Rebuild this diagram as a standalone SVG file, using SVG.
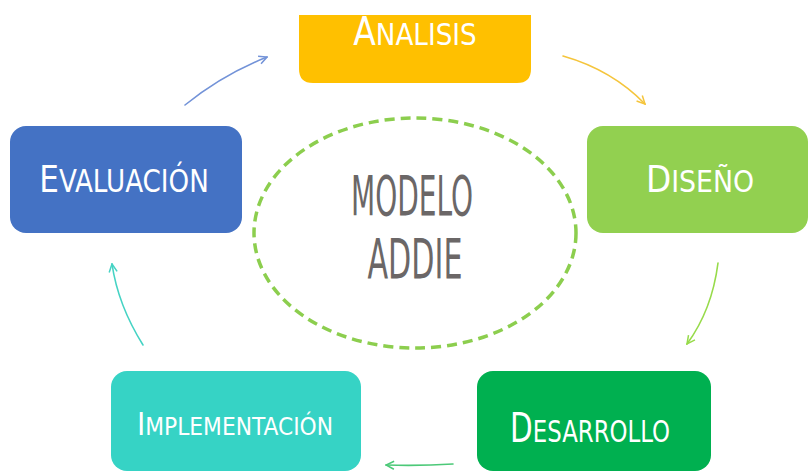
<svg xmlns="http://www.w3.org/2000/svg" width="809" height="474" viewBox="0 0 809 474">
<style>
.lbl{font-family:"Liberation Sans Narrow","DejaVu Sans Condensed","Liberation Sans",sans-serif;fill:#ffffff;text-anchor:middle}
.ctr{font-family:"Liberation Sans Narrow","DejaVu Sans Condensed","Liberation Sans",sans-serif;fill:#6b6767;text-anchor:middle;font-size:55px}
.conn{fill:none;stroke-width:1.6;stroke-linecap:round}
</style>
<defs>
<marker id="mBlue" viewBox="0 0 10 10" refX="9" refY="5" markerWidth="10" markerHeight="10" markerUnits="userSpaceOnUse" orient="auto"><path d="M1,1 L9,5 L1,9" fill="none" stroke="#7393d8" stroke-width="1.5"/></marker>
<marker id="mYellow" viewBox="0 0 10 10" refX="9" refY="5" markerWidth="10" markerHeight="10" markerUnits="userSpaceOnUse" orient="auto"><path d="M1,1 L9,5 L1,9" fill="none" stroke="#f5c53c" stroke-width="1.5"/></marker>
<marker id="mLime" viewBox="0 0 10 10" refX="9" refY="5" markerWidth="10" markerHeight="10" markerUnits="userSpaceOnUse" orient="auto"><path d="M1,1 L9,5 L1,9" fill="none" stroke="#97db4a" stroke-width="1.5"/></marker>
<marker id="mGreen" viewBox="0 0 10 10" refX="9" refY="5" markerWidth="10" markerHeight="10" markerUnits="userSpaceOnUse" orient="auto"><path d="M1,1 L9,5 L1,9" fill="none" stroke="#4cc978" stroke-width="1.5"/></marker>
<marker id="mTeal" viewBox="0 0 10 10" refX="9" refY="5" markerWidth="10" markerHeight="10" markerUnits="userSpaceOnUse" orient="auto"><path d="M1,1 L9,5 L1,9" fill="none" stroke="#45d3c4" stroke-width="1.5"/></marker>
</defs>
<rect width="809" height="474" fill="#ffffff"/>
<g id="connectors">
<path class="conn" d="M185,105 Q222,75 267,57" stroke="#7393d8" marker-end="url(#mBlue)"/>
<path class="conn" d="M563,56 Q612,70 645,104" stroke="#f5c53c" marker-end="url(#mYellow)"/>
<path class="conn" d="M718,263 Q712,310 687,344" stroke="#97db4a" marker-end="url(#mLime)"/>
<path class="conn" d="M453,464 Q420,466 386,465" stroke="#4cc978" marker-end="url(#mGreen)"/>
<path class="conn" d="M143,345 Q118,305 112,264" stroke="#45d3c4" marker-end="url(#mTeal)"/>
</g>
<g id="center">
<ellipse cx="415" cy="233" rx="161" ry="115" fill="none" stroke="#8cce4e" stroke-width="3.5" stroke-dasharray="10 6"/>
<text class="ctr" x="412" y="215" textLength="122" lengthAdjust="spacingAndGlyphs">MODELO</text>
<text class="ctr" x="415" y="278" textLength="95" lengthAdjust="spacingAndGlyphs">ADDIE</text>
</g>
<g id="analisis">
<path d="M299,15 H531 V69 Q531,83 517,83 H313 Q299,83 299,69 Z" fill="#ffc000"/>
<text class="lbl" transform="translate(415,45) scale(0.94,1)"><tspan font-size="39">A</tspan><tspan font-size="31">NALISIS</tspan></text>
</g>
<g id="diseno">
<rect x="587" y="126" width="221" height="107" rx="16" fill="#92d050"/>
<text class="lbl" transform="translate(700,192) scale(0.96,1)"><tspan font-size="38">D</tspan><tspan font-size="31">ISEÑO</tspan></text>
</g>
<g id="desarrollo">
<rect x="477" y="371" width="234" height="100" rx="16" fill="#00b050"/>
<text class="lbl" transform="translate(590,442) scale(0.82,1)"><tspan font-size="40">D</tspan><tspan font-size="31">ESARROLLO</tspan></text>
</g>
<g id="implementacion">
<rect x="111" y="371" width="250" height="100" rx="16" fill="#36d3c5"/>
<text class="lbl" transform="translate(235,435) scale(0.97,1)"><tspan font-size="32">I</tspan><tspan font-size="25">MPLEMENTACIÓN</tspan></text>
</g>
<g id="evaluacion">
<rect x="10" y="126" width="232" height="107" rx="16" fill="#4472c4"/>
<text class="lbl" transform="translate(124,192) scale(0.91,1)"><tspan font-size="38">E</tspan><tspan font-size="32">VALUACIÓN</tspan></text>
</g>
</svg>
